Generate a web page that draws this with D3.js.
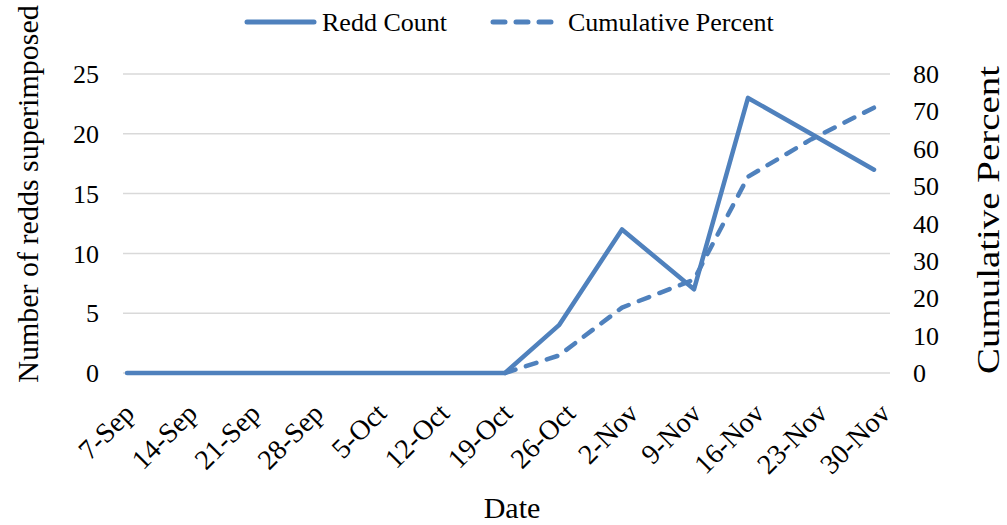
<!DOCTYPE html>
<html>
<head>
<meta charset="utf-8">
<script src="https://cdn.jsdelivr.net/npm/d3@7"></script>
<style>
body { margin: 0; background: #fff; }
svg text { font-family: "Liberation Serif", "Times New Roman", serif; fill: #000; }
</style>
</head>
<body>
<div id="chart"></div>
<script>
// tick labels on the date axis (weekly)
var tickDates = ['2019-09-07', '2019-09-14', '2019-09-21', '2019-09-28', '2019-10-05', '2019-10-12',
	'2019-10-19', '2019-10-26', '2019-11-02', '2019-11-09', '2019-11-16', '2019-11-23', '2019-11-30'];
var tickLabels = ['7-Sep', '14-Sep', '21-Sep', '28-Sep', '5-Oct', '12-Oct',
	'19-Oct', '26-Oct', '2-Nov', '9-Nov', '16-Nov', '23-Nov', '30-Nov'];

// survey dates and values
var surveyDates = ['2019-09-07', '2019-09-14', '2019-09-21', '2019-09-28', '2019-10-05', '2019-10-12',
	'2019-10-19', '2019-10-25', '2019-11-01', '2019-11-09', '2019-11-15', '2019-11-22', '2019-11-29'];
var reddCount = [0, 0, 0, 0, 0, 0, 0, 4, 12, 7, 23, 20, 17];
var cumulativePercent = [0, 0, 0, 0, 0, 0, 0, 4.7, 17.5, 25, 52.5, 62.5, 71];

var leftTicks = [0, 5, 10, 15, 20, 25];
var rightTicks = [0, 10, 20, 30, 40, 50, 60, 70, 80];

var blue = '#4f81bd';
var width = 1007, height = 525;
var plot = { left: 123, right: 890, top: 74, bottom: 373 };

var parse = d3.utcParse('%Y-%m-%d');

var svg = d3.select('#chart').append('svg')
	.attr('width', width)
	.attr('height', height);

var x = d3.scaleUtc()
	.domain([parse(tickDates[0]), parse(tickDates[tickDates.length - 1])])
	.range([127, 883]);
var yLeft = d3.scaleLinear().domain([0, 25]).range([plot.bottom, plot.top]);
var yRight = d3.scaleLinear().domain([0, 80]).range([plot.bottom, plot.top]);

//gridlines
svg.append('g').selectAll('line')
	.data(leftTicks)
	.enter().append('line')
	.attr('x1', plot.left).attr('x2', plot.right)
	.attr('y1', function (d) { return yLeft(d); })
	.attr('y2', function (d) { return yLeft(d); })
	.attr('stroke', '#d9d9d9')
	.attr('stroke-width', 1.5);

//left axis labels
svg.append('g').selectAll('text')
	.data(leftTicks)
	.enter().append('text')
	.attr('x', 99)
	.attr('y', function (d) { return yLeft(d); })
	.attr('dy', '0.35em')
	.attr('text-anchor', 'end')
	.style('font-size', '26px')
	.text(function (d) { return d; });

//right axis labels
svg.append('g').selectAll('text')
	.data(rightTicks)
	.enter().append('text')
	.attr('x', 913)
	.attr('y', function (d) { return yRight(d); })
	.attr('dy', '0.35em')
	.attr('text-anchor', 'start')
	.style('font-size', '26px')
	.text(function (d) { return d; });

//date labels, rotated
svg.append('g').selectAll('text')
	.data(tickDates)
	.enter().append('text')
	.attr('transform', function (d) {
		return 'translate(' + (x(parse(d)) + 9) + ',415) rotate(-45)';
	})
	.attr('text-anchor', 'end')
	.style('font-size', '28px')
	.text(function (d, i) { return tickLabels[i]; });

var rows = surveyDates.map(function (d, i) {
	return { date: parse(d), count: reddCount[i], pct: cumulativePercent[i] };
});

var countLine = d3.line()
	.x(function (d) { return x(d.date); })
	.y(function (d) { return yLeft(d.count); });
var pctLine = d3.line()
	.x(function (d) { return x(d.date); })
	.y(function (d) { return yRight(d.pct); });

svg.append('path')
	.datum(rows)
	.attr('d', countLine)
	.attr('fill', 'none')
	.attr('stroke', blue)
	.attr('stroke-width', 4.5)
	.attr('stroke-linecap', 'round')
	.attr('stroke-linejoin', 'round');

svg.append('path')
	.datum(rows.slice(6))
	.attr('d', pctLine)
	.attr('fill', 'none')
	.attr('stroke', blue)
	.attr('stroke-width', 4.5)
	.attr('stroke-dasharray', '11,11')
	.attr('stroke-linecap', 'round')
	.attr('stroke-linejoin', 'round');

//axis titles
svg.append('text')
	.attr('transform', 'translate(38,194) rotate(-90)')
	.attr('text-anchor', 'middle')
	.style('font-size', '30px')
	.text('Number of redds superimposed');

svg.append('text')
	.attr('transform', 'translate(999,220) rotate(-90)')
	.attr('text-anchor', 'middle')
	.attr('textLength', 308)
	.attr('lengthAdjust', 'spacingAndGlyphs')
	.style('font-size', '31px')
	.text('Cumulative Percent');

svg.append('text')
	.attr('x', 512)
	.attr('y', 518)
	.attr('text-anchor', 'middle')
	.style('font-size', '30px')
	.text('Date');

//legend
var legend = svg.append('g');
legend.append('line')
	.attr('x1', 247).attr('x2', 314).attr('y1', 22).attr('y2', 22)
	.attr('stroke', blue).attr('stroke-width', 5).attr('stroke-linecap', 'round');
legend.append('text')
	.attr('x', 322).attr('y', 31)
	.style('font-size', '26px')
	.text('Redd Count');
legend.append('line')
	.attr('x1', 493).attr('x2', 560).attr('y1', 22).attr('y2', 22)
	.attr('stroke', blue).attr('stroke-width', 5).attr('stroke-linecap', 'round')
	.attr('stroke-dasharray', '12,11');
legend.append('text')
	.attr('x', 568).attr('y', 31)
	.style('font-size', '26px')
	.text('Cumulative Percent');
</script>
</body>
</html>
